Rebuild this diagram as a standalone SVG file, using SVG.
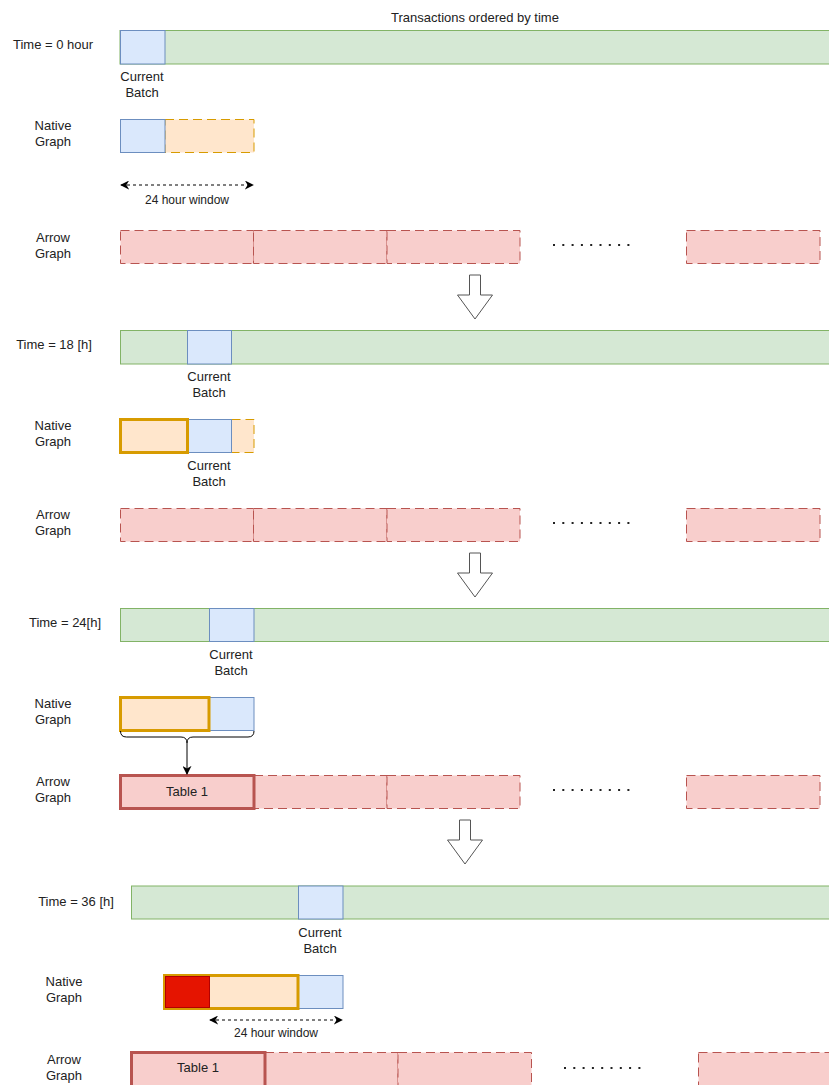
<svg xmlns="http://www.w3.org/2000/svg" width="829" height="1085" viewBox="0 0 829 1085">
  <defs>
    <style>
      text { font-family: "Liberation Sans", Arial, sans-serif; font-size: 13px; fill: #222; text-anchor: middle; }
      .small { font-size: 12px; }
      .green { fill: #d5e8d4; stroke: #82b366; stroke-width: 1; }
      .blue { fill: #dae8fc; stroke: #6c8ebf; stroke-width: 1; }
      .orange-dash { fill: #ffe6cc; stroke: #d79b00; stroke-width: 1; stroke-dasharray: 9 5; }
      .orange-bold { fill: #ffe6cc; stroke: #d79b00; stroke-width: 3; }
      .red-dash { fill: #f8cecc; stroke: #b85450; stroke-width: 1; stroke-dasharray: 9 5; }
      .red-bold { fill: #f8cecc; stroke: #b85450; stroke-width: 3; }
      .red-solid { fill: #e51400; stroke: #b20000; stroke-width: 1; }
      .dots { stroke: #222; stroke-width: 2; stroke-dasharray: 2 7.3; fill: none; }
      .span { stroke: #000; stroke-width: 1; stroke-dasharray: 3 3; fill: none; }
      .step { fill: #fff; stroke: #555; stroke-width: 1; }
      .link { stroke: #000; stroke-width: 1; fill: none; }
    </style>
    <marker id="head" viewBox="0 0 10 10" refX="9" refY="5" markerWidth="9" markerHeight="9" markerUnits="userSpaceOnUse" orient="auto-start-reverse">
      <path d="M0,0 L10,5 L0,10 L3,5 Z" fill="#000"/>
    </marker>
  </defs>
  <rect width="829" height="1085" fill="#fff"/>

  <text id="title" x="475" y="22">Transactions ordered by time</text>

  <!-- Step 1: t = 0 -->
  <g id="t0">
    <text x="53" y="49">Time = 0 hour</text>
    <rect class="green" x="120" y="30.5" width="720" height="33.5"/>
    <rect class="blue" x="120.5" y="30.5" width="44.5" height="33.5"/>
    <text x="142" y="81">Current</text>
    <text x="142" y="97">Batch</text>
  </g>
  <g id="native0">
    <text x="53" y="130">Native</text>
    <text x="53" y="146">Graph</text>
    <rect class="orange-dash" x="165" y="119.5" width="89" height="33"/>
    <rect class="blue" x="120.5" y="119.5" width="44.5" height="33"/>
  </g>
  <g id="window0">
    <text class="small" x="187" y="204">24 hour window</text>
  </g>
  <g id="arrow0">
    <text x="53" y="242">Arrow</text>
    <text x="53" y="258">Graph</text>
    <rect class="red-dash" x="120.5" y="230.5" width="133" height="33"/>
    <rect class="red-dash" x="253.5" y="230.5" width="133.5" height="33"/>
    <rect class="red-dash" x="387" y="230.5" width="133" height="33"/>
    <rect class="red-dash" x="686.5" y="230.5" width="133.5" height="33"/>
  </g>

  <!-- Step 2: t = 18 h -->
  <g id="t18">
    <text x="54" y="349">Time = 18 [h]</text>
    <rect class="green" x="120.5" y="330.5" width="720" height="33.5"/>
    <rect class="blue" x="187.5" y="330.5" width="44" height="33.5"/>
    <text x="209" y="381">Current</text>
    <text x="209" y="397">Batch</text>
  </g>
  <g id="native18">
    <text x="53" y="430">Native</text>
    <text x="53" y="446">Graph</text>
    <rect class="orange-dash" x="231.5" y="419.5" width="22.5" height="33"/>
    <rect class="blue" x="187.5" y="419.5" width="44" height="33"/>
    <rect class="orange-bold" x="120.5" y="419.5" width="67" height="33"/>
    <text x="209" y="470">Current</text>
    <text x="209" y="486">Batch</text>
  </g>
  <g id="arrow18">
    <text x="53" y="519">Arrow</text>
    <text x="53" y="535">Graph</text>
    <rect class="red-dash" x="120.5" y="508.5" width="133" height="33"/>
    <rect class="red-dash" x="253.5" y="508.5" width="133.5" height="33"/>
    <rect class="red-dash" x="387" y="508.5" width="133" height="33"/>
    <rect class="red-dash" x="686.5" y="508.5" width="133.5" height="33"/>
  </g>

  <!-- Step 3: t = 24 h -->
  <g id="t24">
    <text x="65" y="627">Time = 24[h]</text>
    <rect class="green" x="120.5" y="608.5" width="720" height="33"/>
    <rect class="blue" x="209.5" y="608.5" width="44.5" height="33"/>
    <text x="231" y="659">Current</text>
    <text x="231" y="675">Batch</text>
  </g>
  <g id="native24">
    <text x="53" y="708">Native</text>
    <text x="53" y="724">Graph</text>
    <rect class="blue" x="209" y="697.5" width="45" height="33"/>
    <rect class="orange-bold" x="120.5" y="697.5" width="88.5" height="33"/>
  </g>
  <g id="arrow24">
    <text x="53" y="786">Arrow</text>
    <text x="53" y="802">Graph</text>
    <rect class="red-dash" x="254" y="775.5" width="133" height="33"/>
    <rect class="red-dash" x="387" y="775.5" width="133" height="33"/>
    <rect class="red-dash" x="686.5" y="775.5" width="133.5" height="33"/>
    <rect class="red-bold" x="120.5" y="775.5" width="133.5" height="33"/>
    <text x="187" y="796">Table 1</text>
  </g>

  <!-- Step 4: t = 36 h -->
  <g id="t36">
    <text x="76" y="906">Time = 36 [h]</text>
    <rect class="green" x="131.5" y="886" width="710" height="33"/>
    <rect class="blue" x="298.5" y="886" width="44.5" height="33"/>
    <text x="320" y="937">Current</text>
    <text x="320" y="953">Batch</text>
  </g>
  <g id="native36">
    <text x="64" y="986">Native</text>
    <text x="64" y="1002">Graph</text>
    <rect class="blue" x="298" y="975.5" width="45" height="33"/>
    <rect class="orange-bold" x="164.5" y="975.5" width="133.5" height="33"/>
    <rect class="red-solid" x="165.5" y="976.5" width="44" height="31"/>
  </g>
  <g id="window36">
    <text class="small" x="276" y="1037">24 hour window</text>
  </g>
  <g id="arrow36">
    <text x="64" y="1064">Arrow</text>
    <text x="64" y="1080">Graph</text>
    <rect class="red-dash" x="265" y="1052.5" width="133" height="40"/>
    <rect class="red-dash" x="398" y="1052.5" width="133.5" height="40"/>
    <rect class="red-dash" x="698.5" y="1052.5" width="140" height="40"/>
    <rect class="red-bold" x="131.5" y="1052.5" width="133.5" height="40"/>
    <text x="198" y="1072">Table 1</text>
  </g>

  <!-- connectors, spans and step arrows -->
  <g id="connectors">
    <line class="span" x1="121" y1="185" x2="253" y2="185" marker-start="url(#head)" marker-end="url(#head)"/>
    <line class="span" x1="210" y1="1020" x2="342" y2="1020" marker-start="url(#head)" marker-end="url(#head)"/>
    <line class="dots" x1="553" y1="245" x2="630" y2="245"/>
    <line class="dots" x1="553" y1="523" x2="630" y2="523"/>
    <line class="dots" x1="553" y1="790" x2="630" y2="790"/>
    <line class="dots" x1="564" y1="1068" x2="641" y2="1068"/>
    <path class="link" d="M120.5,731 Q120.5,737 126.5,737 L181,737 Q187,737 187,743 Q187,737 193,737 L248,737 Q254,737 254,731"/>
    <line class="link" x1="187" y1="743" x2="187" y2="774" marker-end="url(#head)"/>
    <path class="step" d="M469.5,275 H480.5 V295 H492.5 L475,319 L457.5,295 H469.5 Z"/>
    <path class="step" d="M469.5,553 H480.5 V573 H492.5 L475,597 L457.5,573 H469.5 Z"/>
    <path class="step" d="M459.5,820 H470.5 V840 H482.5 L465,864 L447.5,840 H459.5 Z"/>
  </g>
</svg>
